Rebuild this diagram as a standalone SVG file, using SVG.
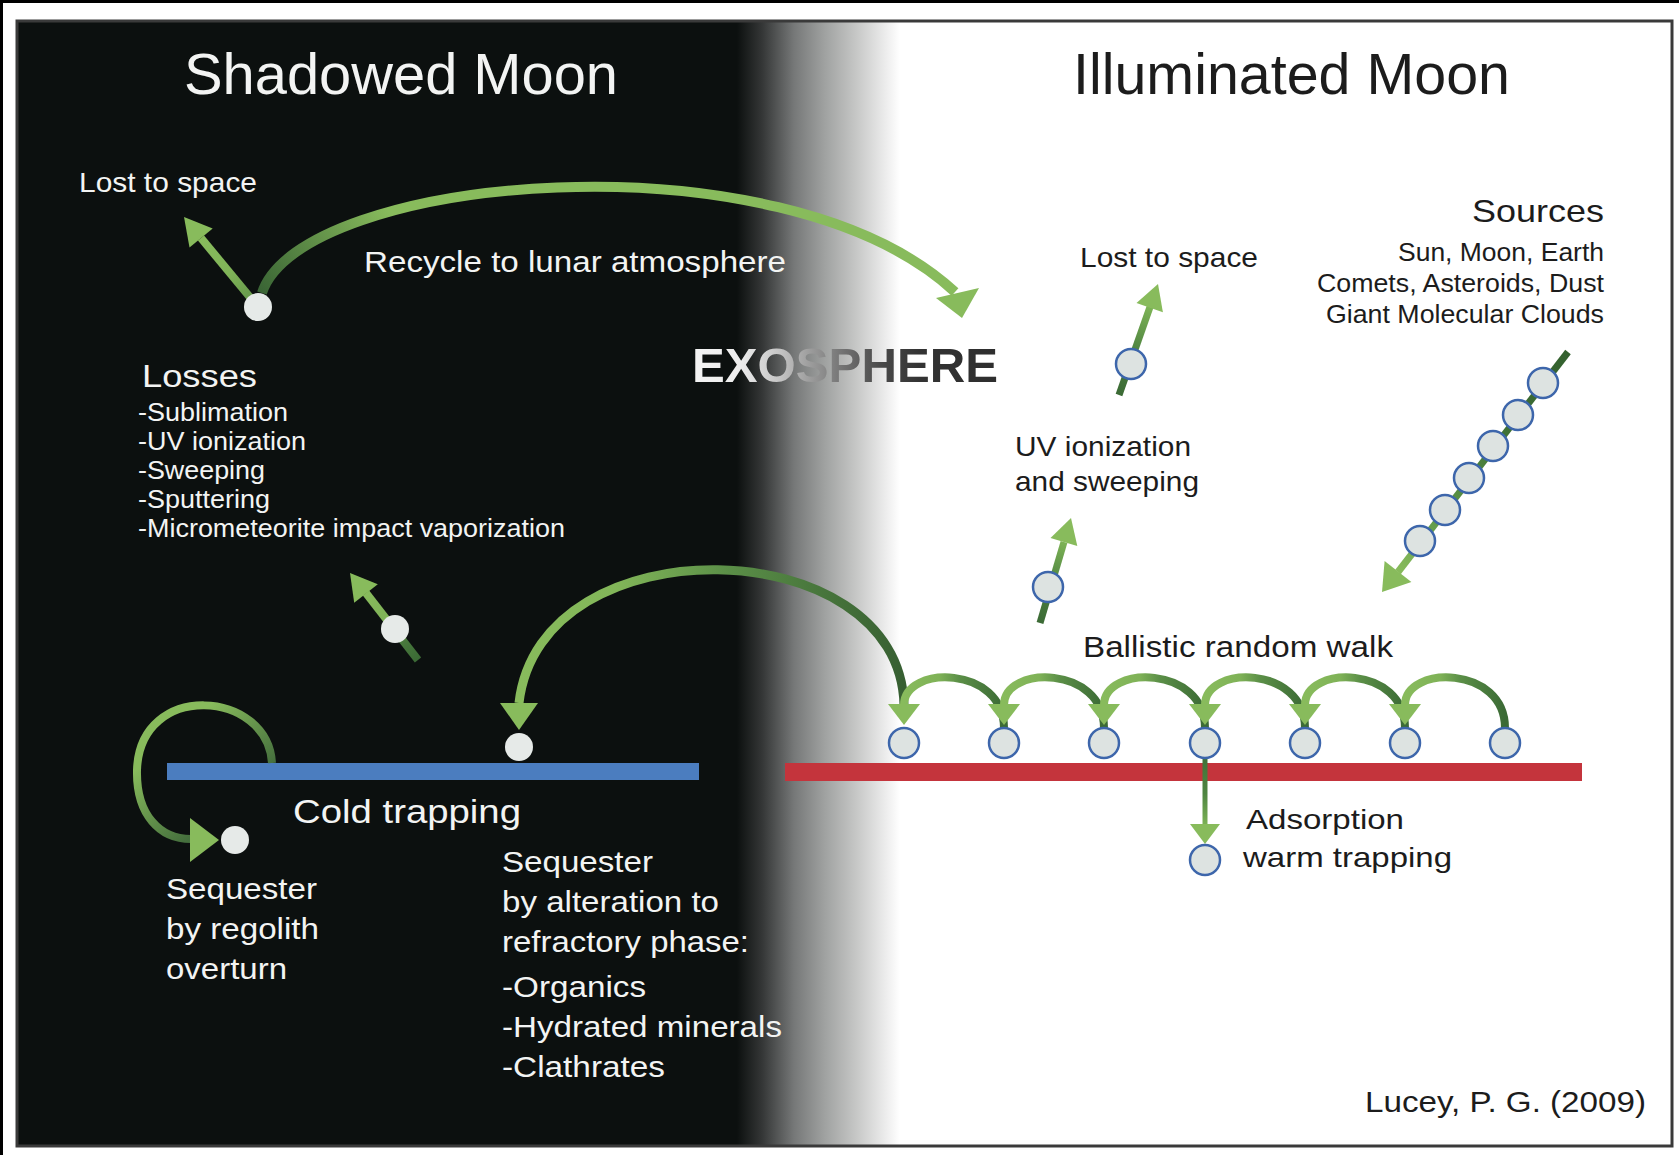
<svg xmlns="http://www.w3.org/2000/svg" width="1679" height="1155" viewBox="0 0 1679 1155">
<style>
  text { font-family: "Liberation Sans", Arial, Helvetica, sans-serif; }
  .lt { fill: #f3f4f3; }
  .dk { fill: #1c1c1c; }
  .title { font-size: 58px; }
  .s25 { font-size: 25px; }
  .s28 { font-size: 28px; }
  .s29 { font-size: 29px; }
  .s30 { font-size: 30px; }
  .s31 { font-size: 31px; }
  .s32 { font-size: 32px; }
  .s34 { font-size: 34px; }
  .exo { font-size: 49px; font-weight: bold; fill: url(#exoFill); }
  .pw { fill: #e6eae8; }
  .pb { fill: #dde3e1; stroke: #3d66ab; stroke-width: 2.5; }
  .shaft { fill: none; stroke-linecap: butt; }
  .head { fill: #88bb5c; }
</style>
<defs>
  <!-- shadow terminator: dark side fading into the lit side -->
  <linearGradient id="shade" gradientUnits="userSpaceOnUse" x1="737" y1="0" x2="900" y2="0">
    <stop offset="0" stop-color="#0c100f"/>
    <stop offset="0.153" stop-color="#343636"/>
    <stop offset="0.35" stop-color="#767878"/>
    <stop offset="0.54" stop-color="#a0a2a1"/>
    <stop offset="0.73" stop-color="#c6c7c6"/>
    <stop offset="0.92" stop-color="#eeeeee"/>
    <stop offset="1" stop-color="#ffffff"/>
  </linearGradient>
  <linearGradient id="exoFill" gradientUnits="userSpaceOnUse" x1="692" y1="0" x2="998" y2="0">
    <stop offset="0" stop-color="#f4f4f4"/>
    <stop offset="0.157" stop-color="#ececec"/>
    <stop offset="0.288" stop-color="#c4c4c4"/>
    <stop offset="0.392" stop-color="#9a9a9a"/>
    <stop offset="0.5" stop-color="#707070"/>
    <stop offset="0.614" stop-color="#4a4a4a"/>
    <stop offset="0.745" stop-color="#333333"/>
    <stop offset="1" stop-color="#2e2e2e"/>
  </linearGradient>
  <!-- hop arcs: dark at the launch (right), light at landing (left) -->
  <linearGradient id="hop" x1="1" y1="0" x2="0" y2="0">
    <stop offset="0" stop-color="#3b6a35"/>
    <stop offset="0.45" stop-color="#5b8f47"/>
    <stop offset="0.65" stop-color="#7fb257"/>
    <stop offset="1" stop-color="#88bb5c"/>
  </linearGradient>
  <linearGradient id="gLost1" gradientUnits="userSpaceOnUse" x1="258" y1="307" x2="201" y2="238">
    <stop offset="0" stop-color="#5d8f47"/>
    <stop offset="0.5" stop-color="#80b458"/>
    <stop offset="1" stop-color="#88bb5c"/>
  </linearGradient>
  <linearGradient id="gLoss" gradientUnits="userSpaceOnUse" x1="418" y1="660" x2="366" y2="593">
    <stop offset="0" stop-color="#3b6a35"/>
    <stop offset="0.4" stop-color="#4f8040"/>
    <stop offset="0.6" stop-color="#7fb257"/>
    <stop offset="1" stop-color="#88bb5c"/>
  </linearGradient>
  <linearGradient id="gLost2" gradientUnits="userSpaceOnUse" x1="1119" y1="395" x2="1150" y2="307">
    <stop offset="0" stop-color="#3b6a35"/>
    <stop offset="0.5" stop-color="#4e8340"/>
    <stop offset="1" stop-color="#7db356"/>
  </linearGradient>
  <linearGradient id="gUV" gradientUnits="userSpaceOnUse" x1="1040" y1="623" x2="1064" y2="542">
    <stop offset="0" stop-color="#3b6a35"/>
    <stop offset="0.5" stop-color="#4e8340"/>
    <stop offset="1" stop-color="#7db356"/>
  </linearGradient>
  <linearGradient id="gSrc" gradientUnits="userSpaceOnUse" x1="1568" y1="352" x2="1398" y2="572">
    <stop offset="0" stop-color="#33602e"/>
    <stop offset="0.35" stop-color="#3f7035"/>
    <stop offset="0.75" stop-color="#5f9848"/>
    <stop offset="1" stop-color="#88bb5c"/>
  </linearGradient>
  <linearGradient id="gAds" gradientUnits="userSpaceOnUse" x1="1205" y1="745" x2="1205" y2="826">
    <stop offset="0" stop-color="#3b6a35"/>
    <stop offset="0.6" stop-color="#4f8541"/>
    <stop offset="1" stop-color="#7db356"/>
  </linearGradient>
  <linearGradient id="gRecycle" gradientUnits="userSpaceOnUse" x1="262" y1="293" x2="380" y2="200">
    <stop offset="0" stop-color="#3a6535"/>
    <stop offset="1" stop-color="#88bb5c"/>
  </linearGradient>
  <linearGradient id="gBig" gradientUnits="userSpaceOnUse" x1="904" y1="700" x2="519" y2="700">
    <stop offset="0" stop-color="#375f32"/>
    <stop offset="0.45" stop-color="#5a8e47"/>
    <stop offset="0.75" stop-color="#82b659"/>
    <stop offset="1" stop-color="#88bb5c"/>
  </linearGradient>
  <linearGradient id="gLoop" gradientUnits="userSpaceOnUse" x1="272" y1="765" x2="215" y2="700">
    <stop offset="0" stop-color="#456f3d"/>
    <stop offset="1" stop-color="#88bb5c"/>
  </linearGradient>
</defs>

<!-- page and frame -->
<rect x="0" y="0" width="1679" height="1155" fill="#ffffff"/>
<rect x="0" y="0" width="1679" height="3" fill="#000000"/>
<rect x="0" y="0" width="3" height="1155" fill="#000000"/>
<rect id="panel" x="17" y="21" width="1655" height="1125" fill="url(#shade)" stroke="#3a3a3a" stroke-width="3"/>

<!-- surfaces -->
<g id="cold-surface"><rect x="167" y="763" width="532" height="17" fill="#4b7dbf"/></g>
<g id="warm-surface"><rect x="785" y="763" width="797" height="18" fill="#c4343c"/></g>

<!-- transport arrows -->
<g id="connectors">
  <path class="shaft" d="M258 307 L201 238" stroke="url(#gLost1)" stroke-width="8"/>
  <polygon class="head" points="184,217 212.7,228.4 189.5,247.4"/>

  <path class="shaft" d="M262 293 C300 175, 780 130, 955 292" stroke="url(#gRecycle)" stroke-width="10"/>
  <polygon class="head" points="936,298 979,288 962,318"/>

  <path class="shaft" d="M418 660 L366 593" stroke="url(#gLoss)" stroke-width="8"/>
  <polygon class="head" points="354.2,602.7 377.8,584.3 350,573"/>

  <path class="shaft" d="M272 763 C268 690, 140 680, 137 770 C136 815, 160 839, 191 839" stroke="url(#gLoop)" stroke-width="8"/>
  <polygon class="head" points="190,818 190,862 219,840"/>

  <path class="shaft" d="M904 705 C900 530, 540 520, 519 703" stroke="url(#gBig)" stroke-width="9"/>
  <polygon class="head" points="500,703 538,703 519,730"/>

  <path class="shaft" d="M1119 395 L1150 307" stroke="url(#gLost2)" stroke-width="7"/>
  <polygon class="head" points="1136.5,303 1162.9,312.2 1158,284"/>

  <path class="shaft" d="M1040 623 L1064 542" stroke="url(#gUV)" stroke-width="7"/>
  <polygon class="head" points="1050.5,538 1077.3,546 1071,518"/>

  <path class="shaft" d="M1568 352 L1398 572" stroke="url(#gSrc)" stroke-width="7"/>
  <polygon class="head" points="1384.6,561.1 1411.4,581.9 1382,592"/>

  <g id="random-walk">
    <path class="shaft" d="M1004 728 C1004 665, 904 665, 904 705" stroke="url(#hop)" stroke-width="8"/>
    <polygon class="head" points="888,704 920,704 904,725"/>
    <path class="shaft" d="M1104 728 C1104 665, 1004 665, 1004 705" stroke="url(#hop)" stroke-width="8"/>
    <polygon class="head" points="988,704 1020,704 1004,725"/>
    <path class="shaft" d="M1205 728 C1205 665, 1104 665, 1104 705" stroke="url(#hop)" stroke-width="8"/>
    <polygon class="head" points="1088,704 1120,704 1104,725"/>
    <path class="shaft" d="M1305 728 C1305 665, 1205 665, 1205 705" stroke="url(#hop)" stroke-width="8"/>
    <polygon class="head" points="1189,704 1221,704 1205,725"/>
    <path class="shaft" d="M1405 728 C1405 665, 1305 665, 1305 705" stroke="url(#hop)" stroke-width="8"/>
    <polygon class="head" points="1289,704 1321,704 1305,725"/>
    <path class="shaft" d="M1505 728 C1505 665, 1405 665, 1405 705" stroke="url(#hop)" stroke-width="8"/>
    <polygon class="head" points="1389,704 1421,704 1405,725"/>
  </g>

  <path class="shaft" d="M1205 745 L1205 826" stroke="url(#gAds)" stroke-width="5"/>
  <polygon class="head" points="1190,824 1220,824 1205,844"/>
</g>

<!-- molecules -->
<g id="cold-molecules">
  <circle class="pw" cx="258" cy="307" r="14"/>
  <circle class="pw" cx="395" cy="629" r="14"/>
  <circle class="pw" cx="519" cy="747" r="14"/>
  <circle class="pw" cx="235" cy="840" r="14"/>
</g>
<g id="warm-molecules">
  <circle class="pb" cx="904" cy="743" r="15"/>
  <circle class="pb" cx="1004" cy="743" r="15"/>
  <circle class="pb" cx="1104" cy="743" r="15"/>
  <circle class="pb" cx="1205" cy="743" r="15"/>
  <circle class="pb" cx="1305" cy="743" r="15"/>
  <circle class="pb" cx="1405" cy="743" r="15"/>
  <circle class="pb" cx="1505" cy="743" r="15"/>
  <circle class="pb" cx="1205" cy="860" r="15"/>
</g>
<g id="escaping-molecules">
  <circle class="pb" cx="1131" cy="364" r="15"/>
  <circle class="pb" cx="1048" cy="587" r="15"/>
</g>
<g id="source-stream">
  <circle class="pb" cx="1543" cy="383" r="15"/>
  <circle class="pb" cx="1518" cy="415" r="15"/>
  <circle class="pb" cx="1493" cy="446" r="15"/>
  <circle class="pb" cx="1469" cy="478" r="15"/>
  <circle class="pb" cx="1445" cy="510" r="15"/>
  <circle class="pb" cx="1420" cy="541" r="15"/>
</g>

<!-- labels -->
<g id="title-shadowed"><text class="lt title" x="184" y="94" textLength="434" lengthAdjust="spacingAndGlyphs">Shadowed Moon</text></g>
<g id="title-illuminated"><text class="dk title" x="1073" y="94" textLength="437" lengthAdjust="spacingAndGlyphs">Illuminated Moon</text></g>
<g id="label-lost-cold"><text class="lt s28" x="79" y="192" textLength="178" lengthAdjust="spacingAndGlyphs">Lost to space</text></g>
<g id="label-recycle"><text class="lt s30" x="364" y="272" textLength="422" lengthAdjust="spacingAndGlyphs">Recycle to lunar atmosphere</text></g>
<g id="label-losses">
  <text class="lt s31" x="142" y="387" textLength="115" lengthAdjust="spacingAndGlyphs">Losses</text>
  <text class="lt s25" x="138" y="421" textLength="150" lengthAdjust="spacingAndGlyphs">-Sublimation</text>
  <text class="lt s25" x="138" y="450" textLength="168" lengthAdjust="spacingAndGlyphs">-UV ionization</text>
  <text class="lt s25" x="138" y="479" textLength="127" lengthAdjust="spacingAndGlyphs">-Sweeping</text>
  <text class="lt s25" x="138" y="508" textLength="132" lengthAdjust="spacingAndGlyphs">-Sputtering</text>
  <text class="lt s25" x="138" y="537" textLength="427" lengthAdjust="spacingAndGlyphs">-Micrometeorite impact vaporization</text>
</g>
<g id="label-exosphere"><text class="exo" x="692" y="382" textLength="306" lengthAdjust="spacingAndGlyphs">EXOSPHERE</text></g>
<g id="label-sources">
  <text class="dk s32" x="1472" y="222" textLength="132" lengthAdjust="spacingAndGlyphs">Sources</text>
  <text class="dk s25" x="1398" y="261" textLength="206" lengthAdjust="spacingAndGlyphs">Sun, Moon, Earth</text>
  <text class="dk s25" x="1317" y="292" textLength="287" lengthAdjust="spacingAndGlyphs">Comets, Asteroids, Dust</text>
  <text class="dk s25" x="1326" y="323" textLength="278" lengthAdjust="spacingAndGlyphs">Giant Molecular Clouds</text>
</g>
<g id="label-lost-warm"><text class="dk s28" x="1080" y="267" textLength="178" lengthAdjust="spacingAndGlyphs">Lost to space</text></g>
<g id="label-uv">
  <text class="dk s28" x="1015" y="456" textLength="176" lengthAdjust="spacingAndGlyphs">UV ionization</text>
  <text class="dk s28" x="1015" y="491" textLength="184" lengthAdjust="spacingAndGlyphs">and sweeping</text>
</g>
<g id="label-ballistic"><text class="dk s29" x="1083" y="657" textLength="310" lengthAdjust="spacingAndGlyphs">Ballistic random walk</text></g>
<g id="label-cold-trapping"><text class="lt s34" x="293" y="823" textLength="228" lengthAdjust="spacingAndGlyphs">Cold trapping</text></g>
<g id="label-regolith">
  <text class="lt s29" x="166" y="899" textLength="151" lengthAdjust="spacingAndGlyphs">Sequester</text>
  <text class="lt s29" x="166" y="939" textLength="153" lengthAdjust="spacingAndGlyphs">by regolith</text>
  <text class="lt s29" x="166" y="979" textLength="121" lengthAdjust="spacingAndGlyphs">overturn</text>
</g>
<g id="label-refractory">
  <text class="lt s29" x="502" y="872" textLength="151" lengthAdjust="spacingAndGlyphs">Sequester</text>
  <text class="lt s29" x="502" y="912" textLength="217" lengthAdjust="spacingAndGlyphs">by alteration to</text>
  <text class="lt s29" x="502" y="952" textLength="247" lengthAdjust="spacingAndGlyphs">refractory phase:</text>
  <text class="lt s29" x="502" y="997" textLength="144" lengthAdjust="spacingAndGlyphs">-Organics</text>
  <text class="lt s29" x="502" y="1037" textLength="280" lengthAdjust="spacingAndGlyphs">-Hydrated minerals</text>
  <text class="lt s29" x="502" y="1077" textLength="163" lengthAdjust="spacingAndGlyphs">-Clathrates</text>
</g>
<g id="label-adsorption">
  <text class="dk s28" x="1246" y="829" textLength="158" lengthAdjust="spacingAndGlyphs">Adsorption</text>
  <text class="dk s28" x="1243" y="867" textLength="209" lengthAdjust="spacingAndGlyphs">warm trapping</text>
</g>
<g id="label-credit"><text class="dk s29" x="1365" y="1112" textLength="281" lengthAdjust="spacingAndGlyphs">Lucey, P. G. (2009)</text></g>
</svg>
